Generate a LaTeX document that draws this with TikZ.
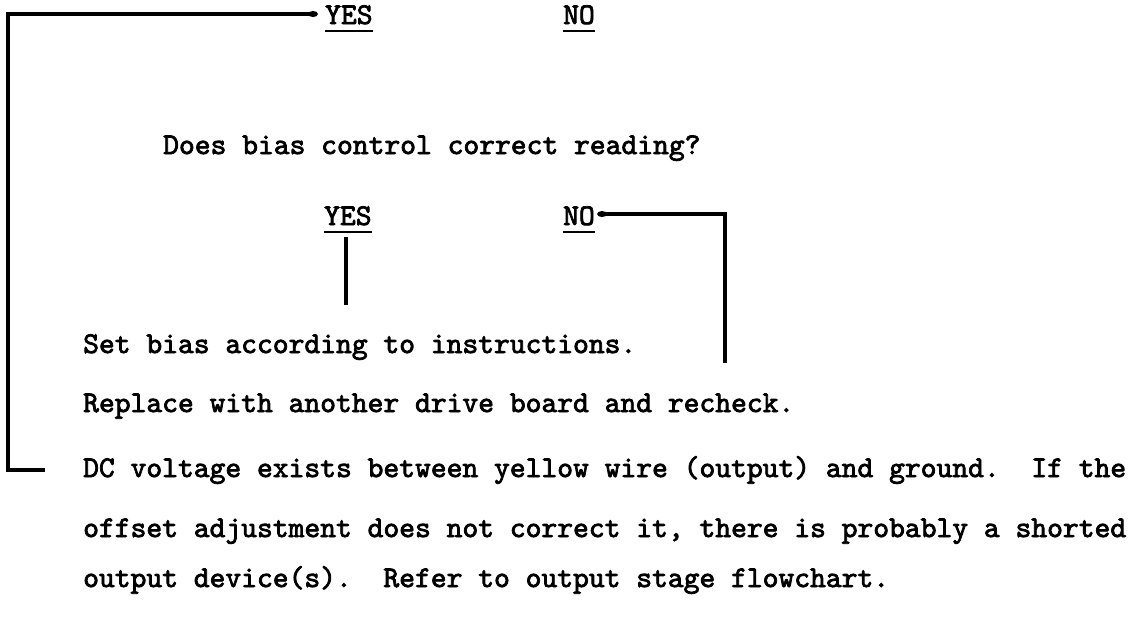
\documentclass[tikz,border=0pt]{standalone}
\usepackage{fontspec}
\newfontfamily\twfont{lmmono10-regular.otf}[FakeBold=2.5]
\usetikzlibrary{arrows.meta}
\tikzset{
  txt/.style={anchor=base west, inner sep=0pt, font=\twfont\fontsize{30.1}{34}\selectfont},
  conn/.style={line width=3.4pt, line join=miter},
  uline/.style={line width=2.2pt}
}
\begin{document}
\begin{tikzpicture}[x=1pt,y=-1pt]
\useasboundingbox (0,0) rectangle (1147,619);
% top answers
\node[txt] (yes1) at (325,24) {YES};
\node[txt] (no1) at (563,24) {NO};
% question
\node[txt] (q) at (163,154) {Does bias control correct reading?};
\node[txt] (yes2) at (324,225) {YES};
\node[txt] (no2) at (563,225) {NO};
% statements
\node[txt] (set) at (83,353) {Set bias according to instructions.};
\node[txt] (rep) at (83,412) {Replace with another drive board and recheck.};
\node[txt] (dc) at (83,477) {DC voltage exists between yellow wire (output) and ground.\ \ If the};
\node[txt] (off) at (83,537) {offset adjustment does not correct it, there is probably a shorted};
\node[txt] (out) at (83,587) {output device(s).\ \ Refer to output stage flowchart.};
% underlines
\foreach \n in {yes1,no1,yes2,no2}
  \draw[uline] ([yshift=-7pt]\n.base west) -- ([yshift=-7pt]\n.base east);
% connectors
\coordinate (stub) at (45,470);
\coordinate (leftx) at (8,0);
\coordinate (topy) at (0,14);
\coordinate (corner) at (leftx |- topy);
\coordinate (arrend) at (313,14);
\draw[conn] (stub) -| (corner) -- (arrend);
\fill (arrend) ellipse (5pt and 3pt);
\coordinate (nostart) at (602,214);
\draw[conn] (nostart) -- (725,214) -- (725,363);
\fill (nostart) ellipse (5pt and 3pt);
\draw[conn] (346,237) -- (346,305);
\end{tikzpicture}
\end{document}
